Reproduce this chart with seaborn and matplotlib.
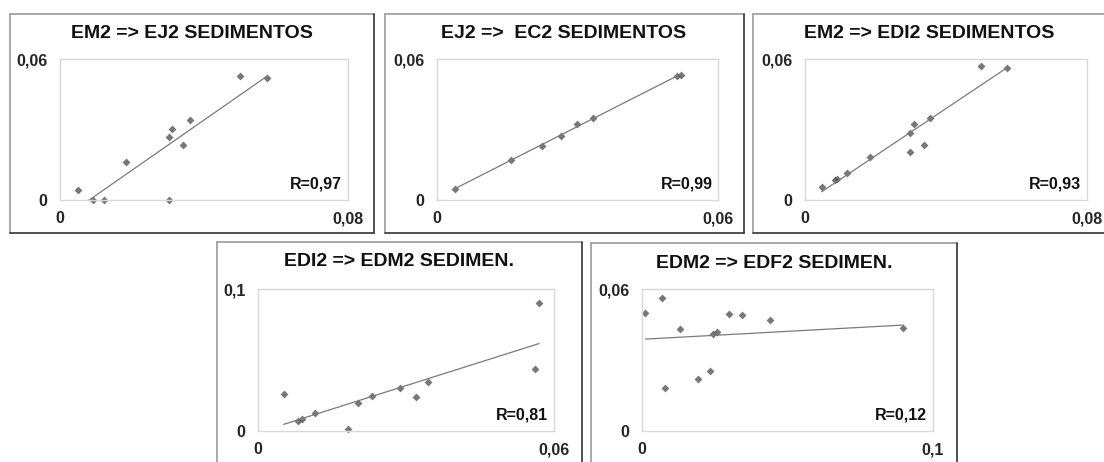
import matplotlib
matplotlib.use("Agg")
import matplotlib.pyplot as plt
from matplotlib.lines import Line2D
import seaborn as sns
import pandas as pd

# values
em2_a = [0.0051, 0.0091, 0.0122, 0.0183, 0.0302, 0.0312, 0.0341, 0.0360, 0.0302, 0.0500, 0.0574]
ej2_a = [0.0043, 0.0000, 0.0000, 0.0163, 0.0269, 0.0303, 0.0233, 0.0339, 0.0000, 0.0528, 0.0518]

ej2_b = [0.0038, 0.0158, 0.0224, 0.0264, 0.0299, 0.0334, 0.0513, 0.0521]
ec2_b = [0.0047, 0.0170, 0.0230, 0.0272, 0.0325, 0.0348, 0.0529, 0.0532]

em2_c = [0.0047, 0.0086, 0.0090, 0.0118, 0.0183, 0.0298, 0.0308, 0.0297, 0.0337, 0.0356, 0.0499, 0.0573]
edi2_c = [0.0054, 0.0085, 0.0089, 0.0116, 0.0183, 0.0287, 0.0323, 0.0203, 0.0236, 0.0349, 0.0570, 0.0560]

edi2_d = [0.0052, 0.0082, 0.0089, 0.0116, 0.0182, 0.0202, 0.0231, 0.0288, 0.0321, 0.0345, 0.0561, 0.0570]
edm2_d = [0.0258, 0.0073, 0.0082, 0.0129, 0.0012, 0.0195, 0.0246, 0.0300, 0.0237, 0.0345, 0.0437, 0.0901]

edm2_e = [0.0012, 0.0070, 0.0080, 0.0129, 0.0194, 0.0235, 0.0245, 0.0257, 0.0299, 0.0343, 0.0439, 0.0897]
edf2_e = [0.0498, 0.0563, 0.0182, 0.0432, 0.0220, 0.0255, 0.0411, 0.0418, 0.0494, 0.0490, 0.0467, 0.0435]

titles = ["EM2 => EJ2 SEDIMENTOS", "EJ2 =>  EC2 SEDIMENTOS", "EM2 => EDI2 SEDIMENTOS",
          "EDI2 => EDM2 SEDIMEN.", "EDM2 => EDF2 SEDIMEN."]
r_labels = ["R=0,97", "R=0,99", "R=0,93", "R=0,81", "R=0,12"]
x_max = [0.08, 0.06, 0.08, 0.06, 0.1]
y_max = [0.06, 0.06, 0.06, 0.1, 0.06]
x_ticklabels = [["0", "0,08"], ["0", "0,06"], ["0", "0,08"], ["0", "0,06"], ["0", "0,1"]]
y_ticklabels = [["0", "0,06"], ["0", "0,06"], ["0", "0,06"], ["0", "0,1"], ["0", "0,06"]]
series = [(em2_a, ej2_a), (ej2_b, ec2_b), (em2_c, edi2_c), (edi2_d, edm2_d), (edm2_e, edf2_e)]

# layout in pixels (left, top, right, bottom)
W, H = 1104, 462
boxes = [(10, 14, 374, 233), (385, 14, 744, 233), (753, 14, 1110, 233),
         (217, 242, 582, 470), (591, 243, 957, 470)]
plots = [(60, 59, 348, 200), (437, 59, 718, 200), (805, 59, 1087, 200),
         (258, 289, 554, 431), (642, 289, 933, 431)]
title_x = [192, 564, 929, 399, 774]
title_y = [33, 33, 33, 262, 263]

sns.set_style("white")
plt.rcParams['font.family'] = ['Liberation Sans', 'DejaVu Sans']

fig = plt.figure(figsize=(W / 100, H / 100), dpi=100)

for i in range(5):
    bl, bt, br, bb = boxes[i]
    # panel frame: lighter top/left, darker bottom/right
    for xs, ys, c in [((bl, br), (bt, bt), '#9a9a9a'), ((bl, bl), (bt, bb), '#9a9a9a'),
                      ((bl, br), (bb, bb), '#333333'), ((br, br), (bt, bb), '#333333')]:
        fig.add_artist(Line2D([x / W for x in xs], [1 - y / H for y in ys],
                              color=c, lw=1.2, transform=fig.transFigure))
    fig.text(title_x[i] / W, 1 - title_y[i] / H, titles[i],
             ha='center', va='center', fontsize=14, fontweight='bold', color='#111111')

    pl, pt, pr, pb = plots[i]
    ax = fig.add_axes([pl / W, 1 - pb / H, (pr - pl) / W, (pb - pt) / H])
    df = pd.DataFrame({'x': series[i][0], 'y': series[i][1]})
    sns.regplot(data=df, x='x', y='y', ax=ax, ci=None, truncate=True,
                marker='D', scatter_kws={'s': 16, 'color': '#555555', 'linewidths': 0, 'clip_on': False},
                line_kws={'color': '#7a7a7a', 'lw': 0.9})
    ax.set_xlim(0, x_max[i])
    ax.set_ylim(0, y_max[i])
    ax.set_xticks([0, x_max[i]])
    ax.set_yticks([0, y_max[i]])
    ax.set_xticklabels(x_ticklabels[i], fontsize=11.5, fontweight='bold')
    ax.set_yticklabels(y_ticklabels[i], fontsize=11.5, fontweight='bold')
    ax.tick_params(length=0, pad=8)
    ax.tick_params(axis='y', pad=9)
    ax.set_xlabel('')
    ax.set_ylabel('')
    for s in ax.spines.values():
        s.set_color('#d9d9d9')
        s.set_linewidth(1)
    ax.text(0.98, 0.11, r_labels[i], transform=ax.transAxes, ha='right', va='center',
            fontsize=11.5, fontweight='bold', color='#111111')

fig.savefig("out.png", dpi=100, facecolor='white')
